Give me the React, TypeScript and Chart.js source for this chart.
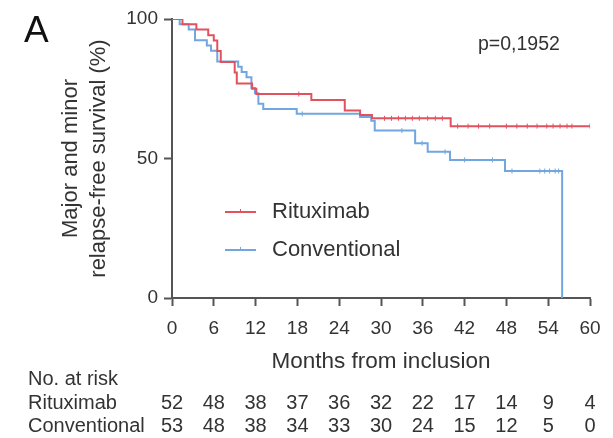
import { useEffect, useRef } from "react";
import { Chart, registerables } from "chart.js";

Chart.register(...registerables);

const FONT = "'Liberation Sans', Arial, Helvetica, sans-serif";
const TEXT = "#333333";
const AXIS = "#555555";
const RED = "#e2525e";
const BLUE = "#72a6de";

// Axis ticks
const monthTicks = [0, 6, 12, 18, 24, 30, 36, 42, 48, 54, 60];
const survivalTicks = [0, 50, 100];

// Kaplan-Meier step curves: time (months) of each step and survival (%) after it
const rituximabTimes = [0, 1.5, 3.5, 5.2, 6.0, 6.5, 7.0, 9.0, 9.3, 11.5, 12.1, 20.0, 24.8, 27.0, 28.7, 40.0, 60.0];
const rituximabSurvival = [100, 98.1, 96.2, 94.2, 92.3, 88.5, 84.6, 80.8, 76.9, 75.0, 73.1, 71.0, 67.2, 65.6, 64.4, 61.6, 61.6];

const conventionalTimes = [0, 1.1, 2.4, 3.3, 5.0, 5.6, 6.5, 9.5, 10.0, 10.7, 11.4, 11.9, 12.4, 13.1, 17.9, 27.0, 28.6, 29.1, 34.9, 36.7, 39.9, 47.8, 56.0];
const conventionalSurvival = [100, 98.1, 96.2, 92.4, 90.5, 88.6, 84.8, 82.9, 81.0, 79.1, 75.3, 73.4, 69.6, 67.7, 66.0, 64.9, 63.5, 60.0, 55.5, 52.4, 49.5, 45.5, 0];

// Censored observations (months)
const rituximabCensored = [18.2, 30.5, 31.5, 32.5, 33.5, 34.5, 35.5, 36.7, 37.8, 38.8, 41.0, 42.5, 44.0, 45.6, 48.0, 49.5, 51.0, 52.4, 53.8, 54.7, 55.7, 56.7, 57.4, 60.0];
const conventionalCensored = [18.7, 33.0, 35.9, 39.2, 42.0, 46.0, 48.8, 52.8, 53.5, 54.2, 55.0, 55.5];

// Number at risk at each month tick
const riskRituximab = [52, 48, 38, 37, 36, 32, 22, 17, 14, 9, 4];
const riskConventional = [53, 48, 38, 34, 33, 30, 24, 15, 12, 5, 0];

const seriesNames = ["Rituximab", "Conventional"];

function survivalAt(times: number[], surv: number[], t: number): number {
  let v = surv[0];
  for (let i = 0; i < times.length; i++) {
    if (times[i] <= t) v = surv[i];
  }
  return v;
}

const extrasPlugin = {
  id: "extras",
  afterDraw(chart: any) {
    const { ctx } = chart;
    const xs = chart.scales.x;
    ctx.save();

    // Panel letter
    ctx.fillStyle = "#111111";
    ctx.font = `37px ${FONT}`;
    ctx.textAlign = "left";
    ctx.textBaseline = "alphabetic";
    ctx.fillText("A", 24, 42);

    // p-value
    ctx.fillStyle = TEXT;
    ctx.font = `19.5px ${FONT}`;
    ctx.textBaseline = "middle";
    ctx.fillText("p=0,1952", 478, 45);

    // Legend
    const legendRows = [
      { name: seriesNames[0], color: RED, y: 212 },
      { name: seriesNames[1], color: BLUE, y: 250 },
    ];
    ctx.font = `22px ${FONT}`;
    for (const row of legendRows) {
      ctx.strokeStyle = row.color;
      ctx.lineWidth = 2;
      ctx.beginPath();
      ctx.moveTo(225, row.y);
      ctx.lineTo(256, row.y);
      ctx.stroke();
      ctx.lineWidth = 1;
      ctx.beginPath();
      ctx.moveTo(240.5, row.y - 3);
      ctx.lineTo(240.5, row.y);
      ctx.stroke();
      ctx.fillStyle = TEXT;
      ctx.textAlign = "left";
      ctx.textBaseline = "middle";
      ctx.fillText(row.name, 272, row.y);
    }

    // Number at risk table
    ctx.font = `20px ${FONT}`;
    ctx.fillStyle = TEXT;
    ctx.textAlign = "left";
    ctx.textBaseline = "middle";
    ctx.fillText("No. at risk", 28, 379);
    ctx.fillText(seriesNames[0], 28, 403);
    ctx.fillText(seriesNames[1], 28, 426);
    ctx.textAlign = "center";
    monthTicks.forEach((m, i) => {
      const px = xs.getPixelForValue(m);
      ctx.fillText(String(riskRituximab[i]), px, 403);
      ctx.fillText(String(riskConventional[i]), px, 426);
    });

    ctx.restore();
  },
};

export default function App() {
  const canvasRef = useRef<HTMLCanvasElement | null>(null);

  useEffect(() => {
    if (!canvasRef.current) return;

    const curve = (times: number[], surv: number[]) =>
      times.map((t, i) => ({ x: t, y: surv[i] }));
    const censors = (c: number[], times: number[], surv: number[]) =>
      c.map((t) => ({ x: t, y: survivalAt(times, surv, t) }));

    const chart = new Chart(canvasRef.current, {
      type: "line",
      data: {
        datasets: [
          {
            label: seriesNames[0],
            data: curve(rituximabTimes, rituximabSurvival),
            borderColor: RED,
            borderWidth: 2,
            stepped: "before",
            pointRadius: 0,
            fill: false,
          },
          {
            label: seriesNames[1],
            data: curve(conventionalTimes, conventionalSurvival),
            borderColor: BLUE,
            borderWidth: 2,
            stepped: "before",
            pointRadius: 0,
            fill: false,
          },
          {
            label: seriesNames[0] + " censored",
            data: censors(rituximabCensored, rituximabTimes, rituximabSurvival),
            showLine: false,
            pointStyle: "line",
            rotation: 90,
            pointRadius: 2.5,
            borderColor: RED,
            pointBorderColor: RED,
            pointBorderWidth: 1,
          },
          {
            label: seriesNames[1] + " censored",
            data: censors(conventionalCensored, conventionalTimes, conventionalSurvival),
            showLine: false,
            pointStyle: "line",
            rotation: 90,
            pointRadius: 2.5,
            borderColor: BLUE,
            pointBorderColor: BLUE,
            pointBorderWidth: 1,
          },
        ],
      },
      options: {
        animation: false,
        responsive: true,
        maintainAspectRatio: false,
        layout: { padding: { left: 0, top: 19, right: 23, bottom: 0 } },
        plugins: {
          legend: { display: false },
          tooltip: { enabled: false },
        },
        scales: {
          x: {
            type: "linear",
            min: 0,
            max: 60,
            afterBuildTicks: (s: any) => {
              s.ticks = monthTicks.map((v) => ({ value: v }));
            },
            afterFit: (s: any) => {
              s.height = 140;
            },
            ticks: {
              font: { family: FONT, size: 19 },
              color: TEXT,
              padding: 11,
              maxRotation: 0,
              autoSkip: false,
            },
            grid: {
              drawOnChartArea: false,
              drawTicks: true,
              tickLength: 8,
              tickColor: AXIS,
              tickWidth: 2,
            },
            border: { display: true, color: AXIS, width: 2 },
            title: {
              display: true,
              text: "Months from inclusion",
              color: TEXT,
              font: { family: FONT, size: 22.5, lineHeight: "28px" },
              padding: { top: 0, bottom: 62 },
            },
          },
          y: {
            type: "linear",
            min: 0,
            max: 100,
            afterBuildTicks: (s: any) => {
              s.ticks = survivalTicks.map((v) => ({ value: v }));
            },
            afterFit: (s: any) => {
              s.width = 172;
            },
            ticks: {
              font: { family: FONT, size: 19 },
              color: TEXT,
              padding: 6,
            },
            grid: {
              drawOnChartArea: false,
              drawTicks: true,
              tickLength: 8,
              tickColor: AXIS,
              tickWidth: 2,
            },
            border: { display: true, color: AXIS, width: 2 },
            title: {
              display: true,
              text: ["Major and minor", "relapse-free survival (%)"],
              color: TEXT,
              font: { family: FONT, size: 22, lineHeight: "28px" },
              padding: { top: 57, bottom: 0 },
            },
          },
        },
      },
      plugins: [extrasPlugin],
    } as any);

    return () => chart.destroy();
  }, []);

  return (
    <div style={{ position: "absolute", left: 0, top: 0, width: 613, height: 438, background: "#ffffff" }}>
      <canvas ref={canvasRef} />
    </div>
  );
}
